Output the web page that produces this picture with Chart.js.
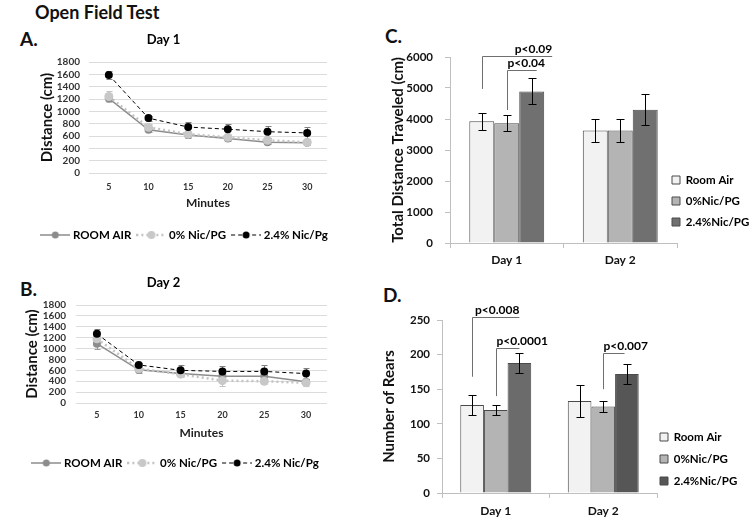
<!DOCTYPE html>
<html lang="en">
<head>
<meta charset="UTF-8">
<title>Open Field Test</title>
<script src="https://cdn.jsdelivr.net/npm/chart.js"></script>
<style>
  body { margin: 0; background: #fff; font-family: Lato, "Open Sans", sans-serif; }
  #page { position: relative; width: 750px; height: 517px; overflow: hidden; }
  .lbl { position: absolute; font-weight: bold; color: #111; line-height: 1; white-space: nowrap; }
  canvas { position: absolute; }
</style>
</head>
<body>
<div id="page">
  <div class="lbl" style="left:35px; top:3px; font-size:18px;">Open Field Test</div>
  <div class="lbl" style="left:20px; top:29px; font-size:19px;">A.</div>
  <div class="lbl" style="left:20px; top:279px; font-size:19px;">B.</div>
  <div class="lbl" style="left:385px; top:26px; font-size:19px;">C.</div>
  <div class="lbl" style="left:383px; top:285px; font-size:19px;">D.</div>
  <canvas id="chartA" width="360" height="222" style="left:0; top:28px;"></canvas>
  <canvas id="chartB" width="346" height="230" style="left:0; top:270px;"></canvas>
  <canvas id="chartC" width="370" height="250" style="left:380px; top:30px;"></canvas>
  <canvas id="chartD" width="370" height="227" style="left:380px; top:290px;"></canvas>
</div>

<script>
  // ---- data: line charts (distance per 5-min bin) ----
  const minutes = ['5', '10', '15', '20', '25', '30'];
  const distanceTicks = [0, 200, 400, 600, 800, 1000, 1200, 1400, 1600, 1800];
  const lineSeries = ['ROOM AIR', '0% Nic/PG', '2.4% Nic/Pg'];

  const roomAirDay1 = [1210, 700, 615, 560, 500, 490];
  const nic0Day1 = [1240, 740, 630, 580, 530, 500];
  const nic24Day1 = [1590, 890, 745, 710, 670, 650];
  const roomAirDay1Err = [40, 40, 40, 40, 35, 35];
  const nic0Day1Err = [85, 50, 45, 50, 45, 40];
  const nic24Day1Err = [65, 40, 80, 90, 95, 95];

  const roomAirDay2 = [1090, 610, 540, 490, 490, 390];
  const nic0Day2 = [1180, 630, 530, 410, 400, 370];
  const nic24Day2 = [1270, 700, 600, 580, 580, 540];
  const roomAirDay2Err = [90, 60, 50, 60, 60, 50];
  const nic0Day2Err = [80, 60, 50, 90, 50, 50];
  const nic24Day2Err = [95, 40, 90, 95, 125, 100];

  // ---- data: bar charts ----
  const days = ['Day 1', 'Day 2'];
  const barSeries = ['Room Air', '0%Nic/PG', '2.4%Nic/PG'];

  const distRoomAir = [3930, 3630];
  const distNic0 = [3860, 3630];
  const distNic24 = [4890, 4300];
  const distRoomAirErr = [270, 370];
  const distNic0Err = [260, 370];
  const distNic24Err = [420, 500];

  const rearsRoomAir = [127, 133];
  const rearsNic0 = [120, 125];
  const rearsNic24 = [188, 172];
  const rearsRoomAirErr = [15, 23];
  const rearsNic0Err = [7, 8];
  const rearsNic24Err = [14, 15];

  // significance brackets (values in axis units)
  const distBrackets = [
    { text: 'p<0.09', cat: 0, from: 0, to: 2, top: 6030, low: 4970, reach: 0.82, align: 'right' },
    { text: 'p<0.04', cat: 0, from: 1, to: 2, top: 5580, low: 4290, reach: 0.2, align: 'left' }
  ];
  const rearsBrackets = [
    { text: 'p<0.008', cat: 0, from: 0, to: 2, top: 254, low: 168, reach: 0, align: 'right' },
    { text: 'p<0.0001', cat: 0, from: 1, to: 2, top: 209, low: 140, reach: 0, align: 'left' },
    { text: 'p<0.007', cat: 1, from: 1, to: 2, top: 202, low: 150, reach: -0.1, align: 'left' }
  ];

  const FONT = 'Lato, "Open Sans", sans-serif';
  const bold = (size, extra) => Object.assign({ family: FONT, size: size, weight: 'bold' }, extra || {});

  // error bars drawn from each dataset's "errors" array
  function drawErrors(chart, opts) {
    const ctx = chart.ctx;
    const y = chart.scales.y;
    const cap = opts.cap || 4;
    chart.data.datasets.forEach((ds, i) => {
      if (!ds.errors) return;
      const meta = chart.getDatasetMeta(i);
      ctx.save();
      ctx.strokeStyle = ds.errorColor || '#000';
      ctx.lineWidth = 1;
      meta.data.forEach((el, j) => {
        const v = ds.data[j], e = ds.errors[j];
        const top = Math.round(y.getPixelForValue(v + e)) + 0.5;
        const bot = Math.round(y.getPixelForValue(v - e)) + 0.5;
        const x = Math.round(el.x) + 0.5;
        ctx.beginPath();
        ctx.moveTo(x, top); ctx.lineTo(x, bot);
        ctx.moveTo(x - cap, top); ctx.lineTo(x + cap, top);
        ctx.moveTo(x - cap, bot); ctx.lineTo(x + cap, bot);
        ctx.stroke();
      });
      ctx.restore();
    });
  }
  const errorBars = {
    id: 'errorBars',
    beforeDatasetsDraw(chart, args, opts) { if (opts.under) drawErrors(chart, opts); },
    afterDatasetsDraw(chart, args, opts) { if (!opts.under) drawErrors(chart, opts); }
  };

  const brackets = {
    id: 'brackets',
    afterDraw(chart, args, opts) {
      if (!opts.items) return;
      const ctx = chart.ctx, y = chart.scales.y;
      ctx.save();
      ctx.strokeStyle = '#6f6f6f';
      ctx.lineWidth = 1;
      ctx.fillStyle = '#000';
      ctx.font = 'bold 12px ' + FONT;
      ctx.textBaseline = 'bottom';
      opts.items.forEach(b => {
        const a = chart.getDatasetMeta(b.from).data[b.cat];
        const z = chart.getDatasetMeta(b.to).data[b.cat];
        const x0 = Math.round(a.x) + 0.5;
        const x1 = z.x + b.reach * z.width;
        const yt = Math.round(y.getPixelForValue(b.top)) + 0.5;
        const yl = y.getPixelForValue(b.low);
        ctx.beginPath();
        ctx.moveTo(x0, yl); ctx.lineTo(x0, yt); ctx.lineTo(x1, yt);
        ctx.stroke();
        ctx.textAlign = b.align;
        ctx.fillText(b.text, b.align === 'left' ? x0 : x1, yt - 1);
      });
      ctx.restore();
    }
  };

  // move the legend after layout so it sits where the reference has it
  const placeLegend = {
    id: 'placeLegend',
    afterLayout(chart, args, opts) {
      const lg = chart.legend;
      if (!lg || opts.y === undefined) return;
      const pad = lg.options.labels.padding;
      const top = opts.y - pad - opts.itemH / 2;
      lg.top = top; lg.bottom = top + 100; lg.height = 100;
      if (opts.x !== undefined) {
        lg.left = opts.x - pad; lg.right = lg.left + 130; lg.width = 130;
      }
      if (opts.dx) {
        lg.left += opts.dx; lg.right += opts.dx;
      }
    }
  };

  // legend symbol: line with marker
  function lineSymbol(color, dash, width, dot, r) {
    const c = document.createElement('canvas');
    c.width = 30; c.height = 12;
    const g = c.getContext('2d');
    g.strokeStyle = color; g.lineWidth = width; g.setLineDash(dash);
    g.beginPath(); g.moveTo(0, 6); g.lineTo(30, 6); g.stroke();
    g.fillStyle = dot; g.beginPath(); g.arc(15, 6, r, 0, Math.PI * 2); g.fill();
    return c;
  }

  const lineStyles = [
    { color: '#8c8c8c', dash: [], width: 1.5, dot: '#8c8c8c', r: 4, err: '#9a9a9a' },
    { color: '#c3c3c3', dash: [2, 3], width: 2.5, dot: '#c8c8c8', r: 4.5, err: '#c3c3c3' },
    { color: '#000000', dash: [4, 3], width: 1, dot: '#000000', r: 4, err: '#808080' }
  ];

  function lineChart(id, title, values, errors, L) {
    const datasets = values.map((vals, i) => ({
      label: lineSeries[i],
      data: vals,
      errors: errors[i],
      errorColor: lineStyles[i].err,
      borderColor: lineStyles[i].color,
      borderDash: lineStyles[i].dash,
      borderWidth: lineStyles[i].width,
      backgroundColor: lineStyles[i].dot,
      pointBackgroundColor: lineStyles[i].dot,
      pointBorderColor: lineStyles[i].dot,
      pointBorderWidth: 0,
      pointRadius: lineStyles[i].r,
      tension: 0,
      order: 3 - i
    }));
    return new Chart(document.getElementById(id), {
      type: 'line',
      data: { labels: minutes, datasets: datasets },
      plugins: [errorBars, placeLegend],
      options: {
        responsive: false,
        animation: false,
        layout: { padding: { left: 0, right: L.padRight, top: 0, bottom: L.padBottom } },
        plugins: {
          title: { display: true, text: title, color: '#000', font: bold(13), padding: { top: L.titleTop, bottom: L.titleBottom } },
          legend: {
            position: 'bottom',
            maxHeight: 20,
            labels: {
              usePointStyle: true,
              pointStyleWidth: 24,
              padding: 8,
              color: '#333',
              font: bold(11.5),
              generateLabels: () => lineSeries.map((name, i) => ({
                text: name,
                pointStyle: lineSymbol(lineStyles[i].color, lineStyles[i].dash, lineStyles[i].width, lineStyles[i].dot, lineStyles[i].r - 0.5),
                fillStyle: lineStyles[i].dot,
                strokeStyle: lineStyles[i].color,
                lineWidth: 0,
                rotation: 0,
                hidden: false,
                datasetIndex: i
              }))
            }
          },
          tooltip: { enabled: false },
          placeLegend: { y: L.legendY, itemH: 11.5, dx: L.legendDx },
          errorBars: { under: true, cap: 3 }
        },
        scales: {
          x: {
            offset: true,
            grid: { display: false, drawTicks: false },
            border: { display: false },
            ticks: { color: '#333', font: bold(9), padding: L.xTickPad },
            title: { display: true, text: 'Minutes', color: '#222', font: bold(12), padding: { top: 0, bottom: L.xTitlePad } },
            afterFit: s => { s.height = L.xH; }
          },
          y: {
            min: 0, max: 1800,
            afterBuildTicks: s => { s.ticks = distanceTicks.map(v => ({ value: v })); },
            ticks: { color: '#333', font: bold(10), padding: L.yTickPad, autoSkip: false, callback: v => String(v) },
            grid: { color: '#dcdcdc', drawTicks: false },
            border: { display: false },
            title: { display: true, text: 'Distance (cm)', color: '#111', font: bold(15), padding: { top: L.yTitlePad, bottom: 0 } },
            afterFit: s => { s.width = L.yW; }
          }
        }
      }
    });
  }

  lineChart('chartA', 'Day 1',
    [roomAirDay1, nic0Day1, nic24Day1],
    [roomAirDay1Err, nic0Day1Err, nic24Day1Err],
    { padRight: 33, padBottom: 5, titleTop: 4.2, titleBottom: 14.2, legendY: 207, legendDx: 22,
      xTickPad: 8.6, xTitlePad: 14.8, xH: 52, yTickPad: 9, yTitlePad: 38, yW: 89 });

  lineChart('chartB', 'Day 2',
    [roomAirDay2, nic0Day2, nic24Day2],
    [roomAirDay2Err, nic0Day2Err, nic24Day2Err],
    { padRight: 19, padBottom: 27, titleTop: 5.2, titleBottom: 14.2, legendY: 193, legendDx: 13,
      xTickPad: 6.6, xTitlePad: 12.8, xH: 50, yTickPad: 10, yTitlePad: 23, yW: 76 });

  const barFill = ['#f2f2f2', '#b4b4b4', '#707070'];

  function barChart(id, yTitle, yMax, yStep, values, errors, fills, legendFills, marks, L) {
    const datasets = values.map((vals, i) => ({
      label: barSeries[i],
      data: vals,
      errors: errors[i],
      errorColor: '#000',
      backgroundColor: fills[i],
      borderColor: '#4a4a4a',
      borderWidth: 1,
      categoryPercentage: 0.66,
      barPercentage: 1.0
    }));
    return new Chart(document.getElementById(id), {
      type: 'bar',
      data: { labels: days, datasets: datasets },
      plugins: [errorBars, brackets, placeLegend],
      options: {
        responsive: false,
        animation: false,
        layout: { padding: { left: 0, right: L.padRight, top: L.padTop, bottom: 0 } },
        plugins: {
          legend: {
            position: 'chartArea',
            align: 'start',
            labels: {
              boxWidth: 8, boxHeight: 8,
              padding: L.legendPad,
              color: '#222',
              font: bold(11.5),
              generateLabels: () => barSeries.map((name, i) => ({
                text: name,
                fillStyle: legendFills[i],
                strokeStyle: '#4a4a4a',
                lineWidth: 1,
                hidden: false,
                datasetIndex: i
              }))
            }
          },
          tooltip: { enabled: false },
          placeLegend: { x: L.legendX, y: L.legendY, itemH: 11.5 },
          errorBars: { under: false, cap: 4 },
          brackets: { items: marks }
        },
        scales: {
          x: {
            grid: { offset: true, drawOnChartArea: false, tickLength: 5, color: '#bfbfbf' },
            border: { color: '#bfbfbf' },
            ticks: { color: '#111', font: bold(12), padding: L.xTickPad },
            afterFit: s => { s.height = L.xH; }
          },
          y: {
            min: 0, max: yMax,
            ticks: { stepSize: yStep, color: '#111', font: bold(11.5), padding: L.yTickPad, callback: v => String(v) },
            grid: { drawOnChartArea: false, tickLength: 5, color: '#bfbfbf' },
            border: { color: '#bfbfbf' },
            title: { display: true, text: yTitle, color: '#111', font: bold(15), padding: { top: L.yTitlePad, bottom: 0 } },
            afterFit: s => { s.width = L.yW; }
          }
        }
      }
    });
  }

  barChart('chartC', 'Total Distance Traveled (cm)', 6000, 1000,
    [distRoomAir, distNic0, distNic24],
    [distRoomAirErr, distNic0Err, distNic24Err],
    barFill, barFill, distBrackets,
    { padRight: 73, padTop: 27, legendPad: 9.5, legendX: 292, legendY: 150,
      xTickPad: 5, xH: 37, yTickPad: 12, yTitlePad: 9, yW: 70 });

  barChart('chartD', 'Number of Rears', 250, 50,
    [rearsRoomAir, rearsNic0, rearsNic24],
    [rearsRoomAirErr, rearsNic0Err, rearsNic24Err],
    ['#f2f2f2', '#b4b4b4', ['#6b6b6b', '#565656']],
    ['#f2f2f2', '#b4b4b4', '#565656'], rearsBrackets,
    { padRight: 93, padTop: 30, legendPad: 10.5, legendX: 280, legendY: 147,
      xTickPad: 6, xH: 24, yTickPad: 7, yTitlePad: 0, yW: 62 });
</script>
</body>
</html>
